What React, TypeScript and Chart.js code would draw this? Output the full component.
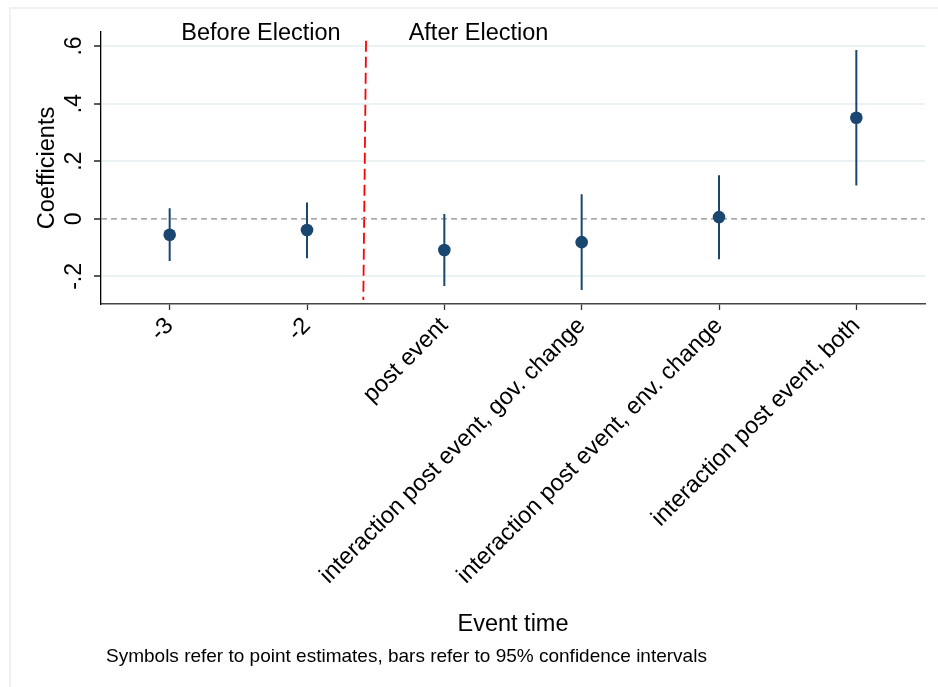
import { useEffect, useRef } from "react";
import { Chart, registerables } from "chart.js";

Chart.register(...registerables);

const categories = [
  "-3",
  "-2",
  "post event",
  "interaction post event, gov. change",
  "interaction post event, env. change",
  "interaction post event, both",
];
const estimates = [-0.055, -0.039, -0.108, -0.081, 0.006, 0.351];
const ciLower = [-0.146, -0.137, -0.233, -0.247, -0.14, 0.116];
const ciUpper = [0.037, 0.057, 0.017, 0.085, 0.151, 0.586];
const yTicks = [-0.2, 0, 0.2, 0.4, 0.6];
const yTickLabels = ["-.2", "0", ".2", ".4", ".6"];
const electionLineX = [2.43, 2.41];
const electionLineY = [0.618, -0.282];
const periodLabels = ["Before Election", "After Election"];
const periodLabelX = [1.665, 3.249];
const footnote = "Symbols refer to point estimates, bars refer to 95% confidence intervals";

const FONT = "'Liberation Sans', Arial, Helvetica, sans-serif";
const NAVY = "#1a476f";

const textPlugin = {
  id: "extraTexts",
  afterDraw(chart: any) {
    const ctx = chart.ctx;
    const xs = chart.scales.x;
    ctx.save();
    ctx.fillStyle = "#000";
    ctx.font = `23.5px ${FONT}`;
    ctx.textAlign = "center";
    ctx.textBaseline = "alphabetic";
    periodLabels.forEach((t, i) => {
      ctx.fillText(t, xs.getPixelForValue(periodLabelX[i]), 40);
    });
    ctx.font = `19px ${FONT}`;
    ctx.textAlign = "left";
    ctx.fillText(footnote, 106, 662);
    ctx.restore();
  },
};

export default function App() {
  const ref = useRef<HTMLCanvasElement | null>(null);

  useEffect(() => {
    if (!ref.current) return;
    Chart.defaults.font.family = FONT;

    const ciData: any[] = [];
    categories.forEach((_, i) => {
      ciData.push({ x: i + 1, y: ciLower[i] });
      ciData.push({ x: i + 1, y: ciUpper[i] });
      ciData.push({ x: i + 1.5, y: null });
    });

    const chart = new Chart(ref.current, {
      type: "scatter",
      data: {
        datasets: [
          {
            label: "estimates",
            data: estimates.map((y, i) => ({ x: i + 1, y })),
            pointRadius: 6.3,
            pointBackgroundColor: NAVY,
            pointBorderColor: NAVY,
            pointBorderWidth: 0,
            showLine: false,
            order: 0,
          } as any,
          {
            type: "line",
            label: "ci",
            data: ciData,
            borderColor: NAVY,
            borderWidth: 2,
            pointRadius: 0,
            spanGaps: false,
            showLine: true,
            order: 1,
          } as any,
          {
            type: "line",
            label: "zero",
            data: [
              { x: 0.5, y: 0 },
              { x: 6.5, y: 0 },
            ],
            borderColor: "#8c8c8c",
            borderWidth: 1.2,
            borderDash: [6, 4],
            pointRadius: 0,
            showLine: true,
            order: 2,
          } as any,
          {
            type: "line",
            label: "election",
            data: electionLineX.map((x, i) => ({ x, y: electionLineY[i] })),
            borderColor: "#ff0000",
            borderWidth: 1.8,
            borderDash: [11, 5],
            pointRadius: 0,
            showLine: true,
            order: 3,
          } as any,
        ],
      },
      options: {
        animation: false,
        responsive: false,
        devicePixelRatio: 1,
        layout: { padding: { left: 0, top: 32, right: 13, bottom: 0 } },
        plugins: { legend: { display: false }, tooltip: { enabled: false } },
        scales: {
          x: {
            type: "linear",
            min: 0.5,
            max: 6.5,
            afterBuildTicks: (s: any) => {
              s.ticks = categories.map((_, i) => ({ value: i + 1 }));
            },
            afterFit: (s: any) => {
              s.height = 383;
            },
            ticks: {
              autoSkip: false,
              minRotation: 45,
              maxRotation: 45,
              padding: 2,
              color: "#000",
              font: { size: 23.6 },
              callback: (v: any) => categories[Math.round(Number(v)) - 1] ?? "",
            },
            grid: {
              drawOnChartArea: false,
              drawTicks: true,
              tickLength: 6,
              tickColor: "#333",
              tickWidth: 1.3,
            },
            border: { color: "#444", width: 1.5 },
            title: {
              display: true,
              text: "Event time",
              color: "#000",
              font: { size: 23.5 },
              padding: { top: 0, bottom: 48 },
            },
          },
          y: {
            type: "linear",
            min: -0.2957,
            max: 0.6487,
            afterBuildTicks: (s: any) => {
              s.ticks = yTicks.map((v) => ({ value: v }));
            },
            afterFit: (s: any) => {
              s.width = 101;
            },
            ticks: {
              minRotation: 90,
              maxRotation: 90,
              crossAlign: "center",
              padding: 6,
              color: "#000",
              font: { size: 23 },
              callback: (v: any) => {
                const idx = yTicks.findIndex((t) => Math.abs(t - Number(v)) < 1e-9);
                return idx >= 0 ? yTickLabels[idx] : "";
              },
            },
            grid: {
              color: (c: any) =>
                c.tick && Math.abs(c.tick.value) < 1e-9 ? "rgba(0,0,0,0)" : "#eaf2f3",
              lineWidth: 2,
              drawTicks: true,
              tickLength: 7,
              tickColor: "#000",
              tickWidth: 1.3,
            },
            border: { color: "#000", width: 1.3 },
            title: {
              display: true,
              text: "Coefficients",
              color: "#000",
              font: { size: 23.5 },
              padding: { top: 33, bottom: 0 },
            },
          },
        },
      } as any,
      plugins: [textPlugin],
    });

    return () => chart.destroy();
  }, []);

  return (
    <div
      style={{
        position: "fixed",
        left: 0,
        top: 0,
        width: 938,
        height: 687,
        background: "#fff",
        overflow: "hidden",
      }}
    >
      <div
        style={{
          position: "absolute",
          left: 9,
          top: 7,
          right: 0,
          bottom: 0,
          borderTop: "2px solid #edf2f4",
          borderLeft: "2px solid #edf2f4",
        }}
      />
      <canvas
        ref={ref}
        width={938}
        height={687}
        style={{ position: "absolute", left: 0, top: 0 }}
      />
    </div>
  );
}
